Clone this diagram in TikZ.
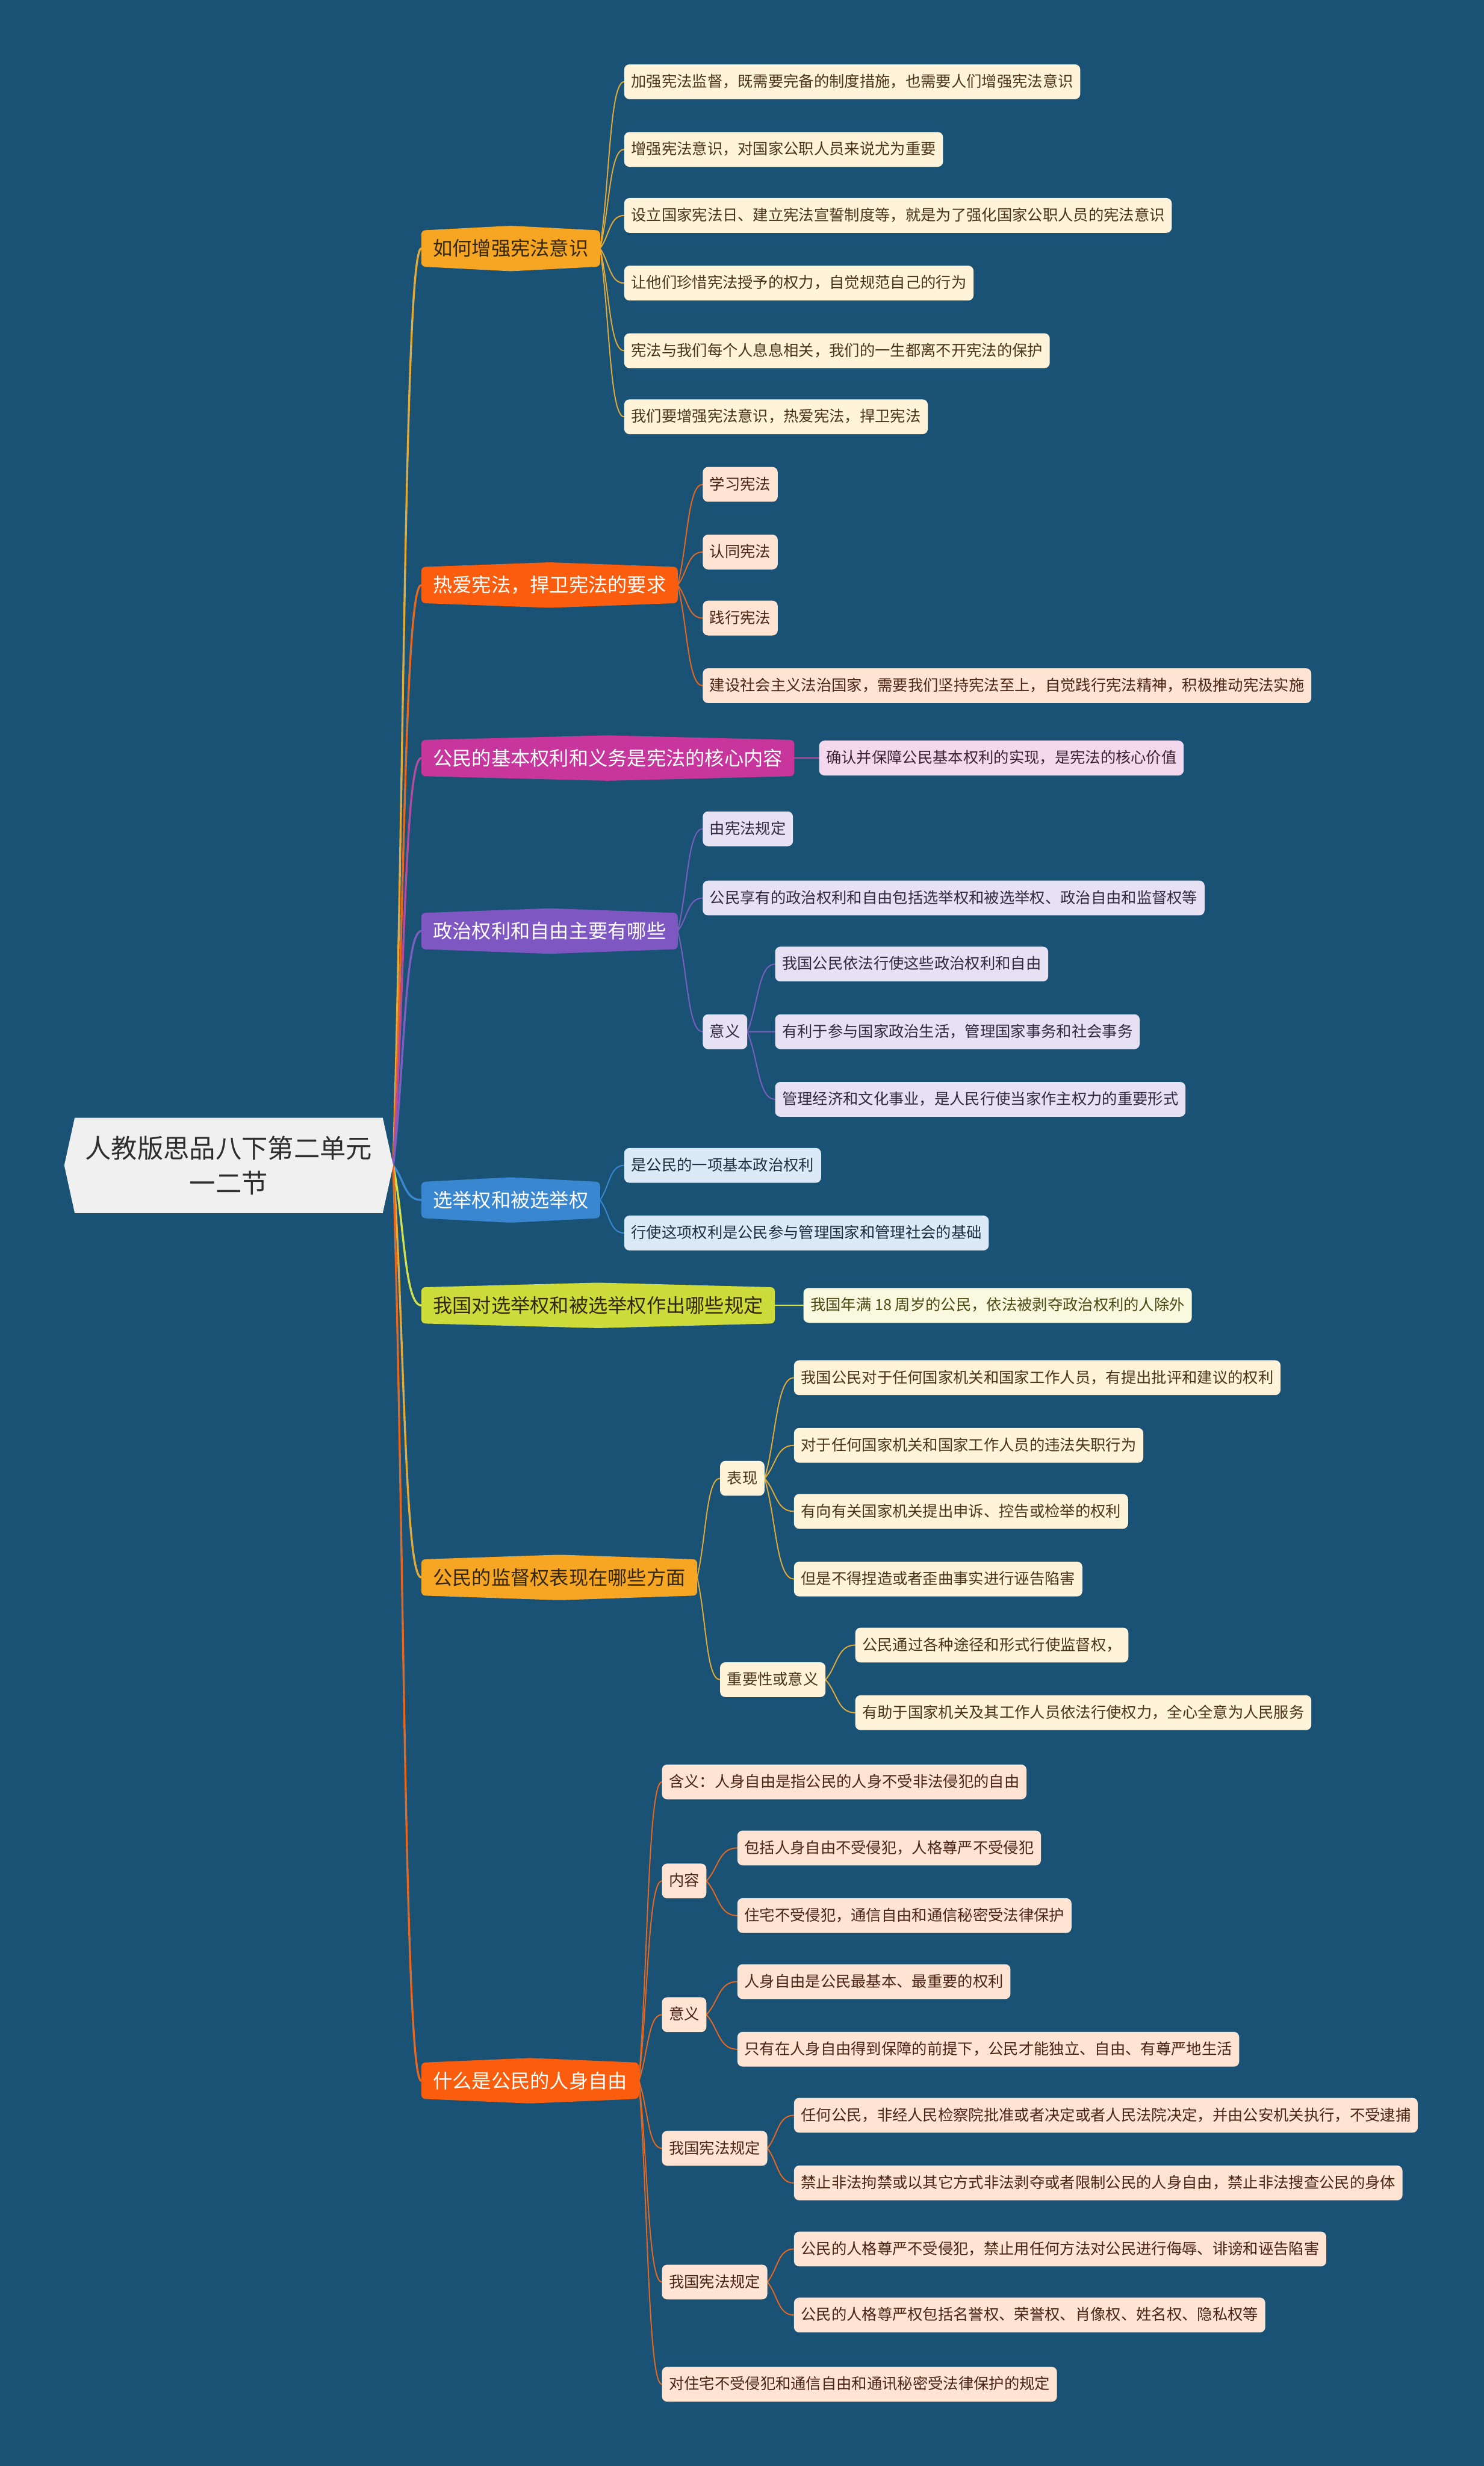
\documentclass[tikz,border=0pt]{standalone}
\usepackage{fontspec}
\setmainfont{Noto Sans CJK SC}
\usetikzlibrary{calc}
\definecolor{bgc}{HTML}{1A5276}
\definecolor{rootF}{HTML}{F0F0F0}
\definecolor{rootT}{HTML}{2E2E2E}
\definecolor{amber}{HTML}{F6A623}
\definecolor{amberE}{HTML}{E3AA38}
\definecolor{amberL}{HTML}{FFF3DA}
\definecolor{amberT}{HTML}{4A3416}
\definecolor{orng}{HTML}{F95D0D}
\definecolor{orngE}{HTML}{E8671E}
\definecolor{orngL}{HTML}{FFE3D3}
\definecolor{orngT}{HTML}{4A2414}
\definecolor{mag}{HTML}{C8359D}
\definecolor{magE}{HTML}{B64A9E}
\definecolor{magL}{HTML}{F4D9EE}
\definecolor{magT}{HTML}{3A2035}
\definecolor{purp}{HTML}{7E57C2}
\definecolor{purpE}{HTML}{7B5EC0}
\definecolor{purpL}{HTML}{E7E2F3}
\definecolor{purpT}{HTML}{2E2840}
\definecolor{blu}{HTML}{3A87D1}
\definecolor{bluE}{HTML}{3C88D0}
\definecolor{bluL}{HTML}{DCEAF7}
\definecolor{bluT}{HTML}{1E2E3E}
\definecolor{ygr}{HTML}{CDDC3A}
\definecolor{ygrE}{HTML}{D2E04A}
\definecolor{ygrL}{HTML}{F8F9DE}
\definecolor{ygrT}{HTML}{4A4A12}
\definecolor{darkT}{HTML}{33280F}
\pgfdeclarelayer{bg}
\pgfdeclarelayer{lines}
\pgfdeclarelayer{shapes}
\pgfsetlayers{bg,lines,shapes,main}
\newcommand\hexfill[2]{%
  \begin{pgfonlayer}{shapes}
  \fill[#2, rounded corners=7pt] (#1.south west) -- (#1.north west) -- ([yshift=8pt]#1.north) -- (#1.north east) -- (#1.south east) -- ([yshift=-8pt]#1.south) -- cycle;
  \end{pgfonlayer}}
\newcommand\conn[3]{%
  \begin{pgfonlayer}{lines}
  \draw[#3] (#1) .. controls ($(#1)!0.4!(#2)$) and ($(#2)!0.6!(#1 |- #2)$) .. (#2);
  \end{pgfonlayer}}
\tikzset{
  l1/.style={anchor=west, font=\fontsize{33.5pt}{40pt}\selectfont, text height=30pt, text depth=5pt, inner xsep=20pt, inner ysep=13.5pt},
  l2/.style={anchor=west, font=\fontsize{26.3pt}{32pt}\selectfont, text height=23pt, text depth=5pt, inner xsep=12pt, inner ysep=16pt, rounded corners=9pt},
  cA/.style={l2, fill=amberL, text=amberT},
  cO/.style={l2, fill=orngL, text=orngT},
  cM/.style={l2, fill=magL, text=magT},
  cP/.style={l2, fill=purpL, text=purpT},
  cB/.style={l2, fill=bluL, text=bluT},
  cY/.style={l2, fill=ygrL, text=ygrT},
  rk/.style={line width=3.5pt, line cap=round},
  lk/.style={line width=2pt, line cap=round}
}
\begin{document}
\begin{tikzpicture}[x=2.7119pt, y=-2.713pt]
\useasboundingbox (0,0) rectangle (944,1568);
\begin{pgfonlayer}{bg}
\fill[bgc] (0,0) rectangle (944,1568);
\end{pgfonlayer}

% root
\node[font=\fontsize{45pt}{60pt}\selectfont, align=center, text=rootT, minimum width=531pt, minimum height=164pt, inner sep=0pt] (rn) at (145.5,741) {人教版思品八下第二单元\\一二节};
\begin{pgfonlayer}{shapes}
\fill[rootF] (rn.north west) -- (rn.north east) -- ([xshift=18pt]rn.east) -- (rn.south east) -- (rn.south west) -- ([xshift=-18pt]rn.west) -- cycle;
\end{pgfonlayer}
\coordinate (rt) at ([xshift=18pt]rn.east);

% level 1
\node[l1, text=darkT] (b1) at (268,158) {如何增强宪法意识};
\node[l1, text=white] (b2) at (268,372) {热爱宪法，捍卫宪法的要求};
\node[l1, text=white] (b3) at (268,482) {公民的基本权利和义务是宪法的核心内容};
\node[l1, text=white] (b4) at (268,592) {政治权利和自由主要有哪些};
\node[l1, text=white] (b5) at (268,763) {选举权和被选举权};
\node[l1, text=darkT] (b6) at (268,830) {我国对选举权和被选举权作出哪些规定};
\node[l1, text=darkT] (b7) at (268,1003) {公民的监督权表现在哪些方面};
\node[l1, text=white] (b8) at (268,1323) {什么是公民的人身自由};
\hexfill{b1}{amber}
\hexfill{b2}{orng}
\hexfill{b3}{mag}
\hexfill{b4}{purp}
\hexfill{b5}{blu}
\hexfill{b6}{ygr}
\hexfill{b7}{amber}
\hexfill{b8}{orng}
\conn{rt}{b1.west}{rk, amberE}
\conn{rt}{b2.west}{rk, orngE}
\conn{rt}{b3.west}{rk, magE}
\conn{rt}{b4.west}{rk, purpE}
\conn{rt}{b5.west}{rk, bluE}
\conn{rt}{b6.west}{rk, ygrE}
\conn{rt}{b7.west}{rk, amberE}
\conn{rt}{b8.west}{rk, orngE}

% branch 1
\node[cA] (c11) at (397,52) {加强宪法监督，既需要完备的制度措施，也需要人们增强宪法意识};
\node[cA] (c12) at (397,95) {增强宪法意识，对国家公职人员来说尤为重要};
\node[cA] (c13) at (397,137) {设立国家宪法日、建立宪法宣誓制度等，就是为了强化国家公职人员的宪法意识};
\node[cA] (c14) at (397,180) {让他们珍惜宪法授予的权力，自觉规范自己的行为};
\node[cA] (c15) at (397,223) {宪法与我们每个人息息相关，我们的一生都离不开宪法的保护};
\node[cA] (c16) at (397,265) {我们要增强宪法意识，热爱宪法，捍卫宪法};
\foreach \c in {c11,c12,c13,c14,c15,c16} {\conn{b1.east}{\c.west}{lk, amberE}}

% branch 2
\node[cO] (c21) at (447,308) {学习宪法};
\node[cO] (c22) at (447,351) {认同宪法};
\node[cO] (c23) at (447,393) {践行宪法};
\node[cO] (c24) at (447,436) {建设社会主义法治国家，需要我们坚持宪法至上，自觉践行宪法精神，积极推动宪法实施};
\foreach \c in {c21,c22,c23,c24} {\conn{b2.east}{\c.west}{lk, orngE}}

% branch 3
\node[cM] (c31) at (521,482) {确认并保障公民基本权利的实现，是宪法的核心价值};
\conn{b3.east}{c31.west}{lk, magE}

% branch 4
\node[cP] (c41) at (447,527) {由宪法规定};
\node[cP] (c42) at (447,571) {公民享有的政治权利和自由包括选举权和被选举权、政治自由和监督权等};
\node[cP] (c43) at (447,656) {意义};
\node[cP] (d431) at (493,613) {我国公民依法行使这些政治权利和自由};
\node[cP] (d432) at (493,656) {有利于参与国家政治生活，管理国家事务和社会事务};
\node[cP] (d433) at (493,699) {管理经济和文化事业，是人民行使当家作主权力的重要形式};
\foreach \c in {c41,c42,c43} {\conn{b4.east}{\c.west}{lk, purpE}}
\foreach \c in {d431,d432,d433} {\conn{c43.east}{\c.west}{lk, purpE}}

% branch 5
\node[cB] (c51) at (397,741) {是公民的一项基本政治权利};
\node[cB] (c52) at (397,784) {行使这项权利是公民参与管理国家和管理社会的基础};
\foreach \c in {c51,c52} {\conn{b5.east}{\c.west}{lk, bluE}}

% branch 6
\node[cY] (c61) at (511,830) {我国年满 18 周岁的公民，依法被剥夺政治权利的人除外};
\conn{b6.east}{c61.west}{lk, ygrE}

% branch 7
\node[cA] (c71) at (458,940) {表现};
\node[cA] (d711) at (505,876) {我国公民对于任何国家机关和国家工作人员，有提出批评和建议的权利};
\node[cA] (d712) at (505,919) {对于任何国家机关和国家工作人员的违法失职行为};
\node[cA] (d713) at (505,961) {有向有关国家机关提出申诉、控告或检举的权利};
\node[cA] (d714) at (505,1004) {但是不得捏造或者歪曲事实进行诬告陷害};
\node[cA] (c72) at (458,1068) {重要性或意义};
\node[cA] (d721) at (544,1046) {公民通过各种途径和形式行使监督权，};
\node[cA] (d722) at (544,1089) {有助于国家机关及其工作人员依法行使权力，全心全意为人民服务};
\foreach \c in {c71,c72} {\conn{b7.east}{\c.west}{lk, amberE}}
\foreach \c in {d711,d712,d713,d714} {\conn{c71.east}{\c.west}{lk, amberE}}
\foreach \c in {d721,d722} {\conn{c72.east}{\c.west}{lk, amberE}}

% branch 8
\node[cO] (c81) at (421,1133) {含义：人身自由是指公民的人身不受非法侵犯的自由};
\node[cO] (c82) at (421,1196) {内容};
\node[cO] (d821) at (469,1175) {包括人身自由不受侵犯，人格尊严不受侵犯};
\node[cO] (d822) at (469,1218) {住宅不受侵犯，通信自由和通信秘密受法律保护};
\node[cO] (c83) at (421,1281) {意义};
\node[cO] (d831) at (469,1260) {人身自由是公民最基本、最重要的权利};
\node[cO] (d832) at (469,1303) {只有在人身自由得到保障的前提下，公民才能独立、自由、有尊严地生活};
\node[cO] (c84) at (421,1366) {我国宪法规定};
\node[cO] (d841) at (505,1345) {任何公民，非经人民检察院批准或者决定或者人民法院决定，并由公安机关执行，不受逮捕};
\node[cO] (d842) at (505,1388) {禁止非法拘禁或以其它方式非法剥夺或者限制公民的人身自由，禁止非法搜查公民的身体};
\node[cO] (c85) at (421,1451) {我国宪法规定};
\node[cO] (d851) at (505,1430) {公民的人格尊严不受侵犯，禁止用任何方法对公民进行侮辱、诽谤和诬告陷害};
\node[cO] (d852) at (505,1472) {公民的人格尊严权包括名誉权、荣誉权、肖像权、姓名权、隐私权等};
\node[cO] (c86) at (421,1516) {对住宅不受侵犯和通信自由和通讯秘密受法律保护的规定};
\foreach \c in {c81,c82,c83,c84,c85,c86} {\conn{b8.east}{\c.west}{lk, orngE}}
\foreach \c in {d821,d822} {\conn{c82.east}{\c.west}{lk, orngE}}
\foreach \c in {d831,d832} {\conn{c83.east}{\c.west}{lk, orngE}}
\foreach \c in {d841,d842} {\conn{c84.east}{\c.west}{lk, orngE}}
\foreach \c in {d851,d852} {\conn{c85.east}{\c.west}{lk, orngE}}
\end{tikzpicture}
\end{document}
